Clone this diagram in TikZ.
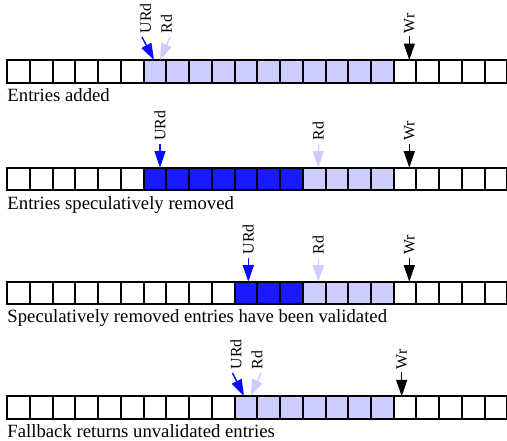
\documentclass[tikz,border=0pt]{standalone}
\usepackage{fontspec}
\setmainfont{Liberation Serif}
\usetikzlibrary{arrows.meta}
\definecolor{lb}{HTML}{CCCCFF}
\definecolor{db}{HTML}{1A1AFF}
\definecolor{ab}{HTML}{0A0AFF}
\newcommand\cellrow[3]{%
  \foreach \c [count=\i from 0] in {#3}
    \node[cell,fill=\c] (#1c\i) at ({18.665+22.73*\i},#2) {};}
\begin{document}
\begin{tikzpicture}[x=1pt,y=-1pt,
  cell/.style={draw=black,line width=2pt,minimum width=22.73pt,minimum height=22.7pt,inner sep=0pt,outer sep=0pt},
  ptrlab/.style={rotate=90,anchor=west,inner sep=0pt,font=\fontsize{15.8}{16}\selectfont},
  rowlab/.style={anchor=base west,inner sep=0pt,font=\fontsize{18.7}{20}\selectfont},
  ptr/.style={line width=1.4pt,-{Triangle[length=16.5pt,width=11pt]}},
]
\useasboundingbox (0,0) rectangle (507,440);
% row 1
\cellrow{a}{71.35}{white,white,white,white,white,white,lb,lb,lb,lb,lb,lb,lb,lb,lb,lb,lb,white,white,white,white,white}
\node[rowlab] (alab) at (7.3,101) {Entries added};
\node[ptrlab] (aul) at (145.5,33.3) {URd};
\node[ptrlab] (arl) at (166.5,33.3) {Rd};
\node[ptrlab] (awl) at (409.3,33.3) {Wr};
\coordinate (aus) at (142,37); \coordinate (aut) at (154,60);
\coordinate (ars) at (170,37); \coordinate (art) at (160,60);
\draw[ptr,ab] (aus) -- (aut);
\draw[ptr,lb] (ars) -- (art);
\draw[ptr,black] (awl.west) ++(0,3) -- (awl.west |- ac17.north);
% row 2
\cellrow{b}{179}{white,white,white,white,white,white,db,db,db,db,db,db,db,lb,lb,lb,lb,white,white,white,white,white}
\node[rowlab] (blab) at (7.3,209) {Entries speculatively removed};
\node[ptrlab] (bul) at (160,140.7) {URd};
\node[ptrlab] (brl) at (318.3,140.7) {Rd};
\node[ptrlab] (bwl) at (409.3,140.7) {Wr};
\draw[ptr,ab] (bul.west) ++(0,3) -- (bul.west |- bc6.north);
\draw[ptr,lb] (brl.west) ++(0,3) -- (brl.west |- bc13.north);
\draw[ptr,black] (bwl.west) ++(0,3) -- (bwl.west |- bc17.north);
% row 3
\cellrow{c}{293}{white,white,white,white,white,white,white,white,white,white,db,db,db,lb,lb,lb,lb,white,white,white,white,white}
\node[rowlab] (clab) at (7.3,322) {Speculatively removed entries have been validated};
\node[ptrlab] (cul) at (248.3,254.5) {URd};
\node[ptrlab] (crl) at (318.3,254.5) {Rd};
\node[ptrlab] (cwl) at (409.3,254.5) {Wr};
\draw[ptr,ab] (cul.west) ++(0,3) -- (cul.west |- cc10.north);
\draw[ptr,lb] (crl.west) ++(0,3) -- (crl.west |- cc13.north);
\draw[ptr,black] (cwl.west) ++(0,3) -- (cwl.west |- cc17.north);
% row 4
\cellrow{d}{407.65}{white,white,white,white,white,white,white,white,white,white,lb,lb,lb,lb,lb,lb,lb,white,white,white,white,white}
\node[rowlab] (dlab) at (7.3,437) {Fallback returns unvalidated entries};
\node[ptrlab] (dul) at (236,369.3) {URd};
\node[ptrlab] (drl) at (257,369.3) {Rd};
\node[ptrlab] (dwl) at (401.7,369.3) {Wr};
\coordinate (dus) at (232.5,373); \coordinate (dut) at (244,396);
\coordinate (drs) at (261,373); \coordinate (drt) at (250.5,396);
\draw[ptr,ab] (dus) -- (dut);
\draw[ptr,lb] (drs) -- (drt);
\draw[ptr,black] (dwl.west) ++(0,3) -- (dwl.west |- dc17.north);
\end{tikzpicture}
\end{document}
